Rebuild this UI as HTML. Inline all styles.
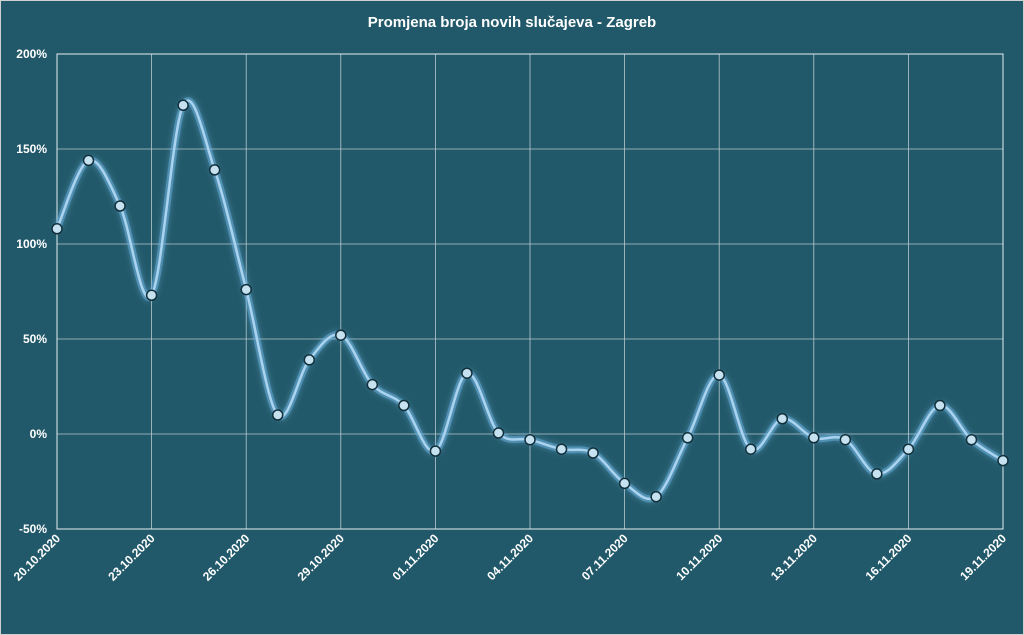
<!DOCTYPE html>
<html><head><meta charset="utf-8"><style>
html,body{margin:0;padding:0;background:#22596a;}
svg{display:block;font-family:"Liberation Sans",sans-serif;}
</style></head><body>
<svg id="chart" width="1024" height="635">
<defs><filter id="glow" x="-10%" y="-10%" width="120%" height="120%"><feGaussianBlur stdDeviation="3" result="b"/><feMerge><feMergeNode in="b"/><feMergeNode in="SourceGraphic"/></feMerge></filter></defs>
<rect x="0.5" y="0.5" width="1023" height="634" fill="#22596a" stroke="#d0d0d0"/>
<text x="512" y="27" text-anchor="middle" fill="#fff" font-size="15" font-weight="bold">Promjena broja novih slučajeva - Zagreb</text>
<g id="grid"></g><g id="axes"></g><g id="series"></g>
</svg>
<script>
const categories=["20.10.2020","21.10.2020","22.10.2020","23.10.2020","24.10.2020","25.10.2020","26.10.2020","27.10.2020","28.10.2020","29.10.2020","30.10.2020","31.10.2020","01.11.2020","02.11.2020","03.11.2020","04.11.2020","05.11.2020","06.11.2020","07.11.2020","08.11.2020","09.11.2020","10.11.2020","11.11.2020","12.11.2020","13.11.2020","14.11.2020","15.11.2020","16.11.2020","17.11.2020","18.11.2020","19.11.2020"];
const values=[108,144,120,73,173,139,76,10,39,52,26,15,-9,32,0.5,-3,-8,-10,-26,-33,-2,31,-8,8,-2,-3,-21,-8,15,-3,-14];
const yTicks=[-50,0,50,100,150,200];
const NS="http://www.w3.org/2000/svg";
const L=57,R=1003,T=54,B=529;
const x=i=>L+(R-L)*i/(categories.length-1);
const y=v=>B-(v+50)/250*(B-T);
function mk(t,a,p){const e=document.createElementNS(NS,t);for(const k in a)e.setAttribute(k,a[k]);p.appendChild(e);return e;}
const grid=document.getElementById('grid'),axes=document.getElementById('axes'),ser=document.getElementById('series');
yTicks.forEach(v=>{
 const g=mk('line',{x1:L,x2:R,y1:y(v),y2:y(v),stroke:'#b8c8cd','stroke-width':0.8},grid);
 
 
 const t=mk('text',{x:L-10,y:y(v)+4,'text-anchor':'end',fill:'#fff','font-size':12,'font-weight':'bold'},axes);
 t.textContent=v+'%';
 
 
});
categories.forEach((c,i)=>{
 if(i%3)return;
 const g=mk('line',{x1:x(i),x2:x(i),y1:T,y2:B,stroke:'#b8c8cd','stroke-width':0.8},grid);
 
 
 const t=mk('text',{x:x(i)+4,y:B+10,'text-anchor':'end',fill:'#fff','font-size':12,'font-weight':'bold',transform:`rotate(-45 ${x(i)+4} ${B+10})`},axes);
 t.textContent=c;
 
 
});
const frame=mk('rect',{x:L,y:T,width:R-L,height:B-T,fill:'none',stroke:'#e6eef0','stroke-width':1},grid);


const P=values.map((v,i)=>[x(i),y(v)]);
let d=`M${P[0][0]},${P[0][1]}`;
for(let i=0;i<P.length-1;i++){
 const p0=P[Math.max(i-1,0)],p1=P[i],p2=P[i+1],p3=P[Math.min(i+2,P.length-1)];
 const c1=[p1[0]+(p2[0]-p0[0])/6,p1[1]+(p2[1]-p0[1])/6],c2=[p2[0]-(p3[0]-p1[0])/6,p2[1]-(p3[1]-p1[1])/6];
 d+=` C${c1[0]},${c1[1]} ${c2[0]},${c2[1]} ${p2[0]},${p2[1]}`;
}
const glowLine=mk('path',{d:d,fill:'none',stroke:'#6fb4e0','stroke-width':7,'stroke-opacity':0.45,filter:'url(#glow)'},ser);


const line=mk('path',{d:d,fill:'none',stroke:'#a9d3ee','stroke-width':2.5},ser);


P.forEach((p,i)=>{
 const c=mk('circle',{cx:p[0],cy:p[1],r:5,fill:'#c6e2f0',stroke:'#12303c','stroke-width':1.5},ser);
 
 
});
</script>
</body></html>
